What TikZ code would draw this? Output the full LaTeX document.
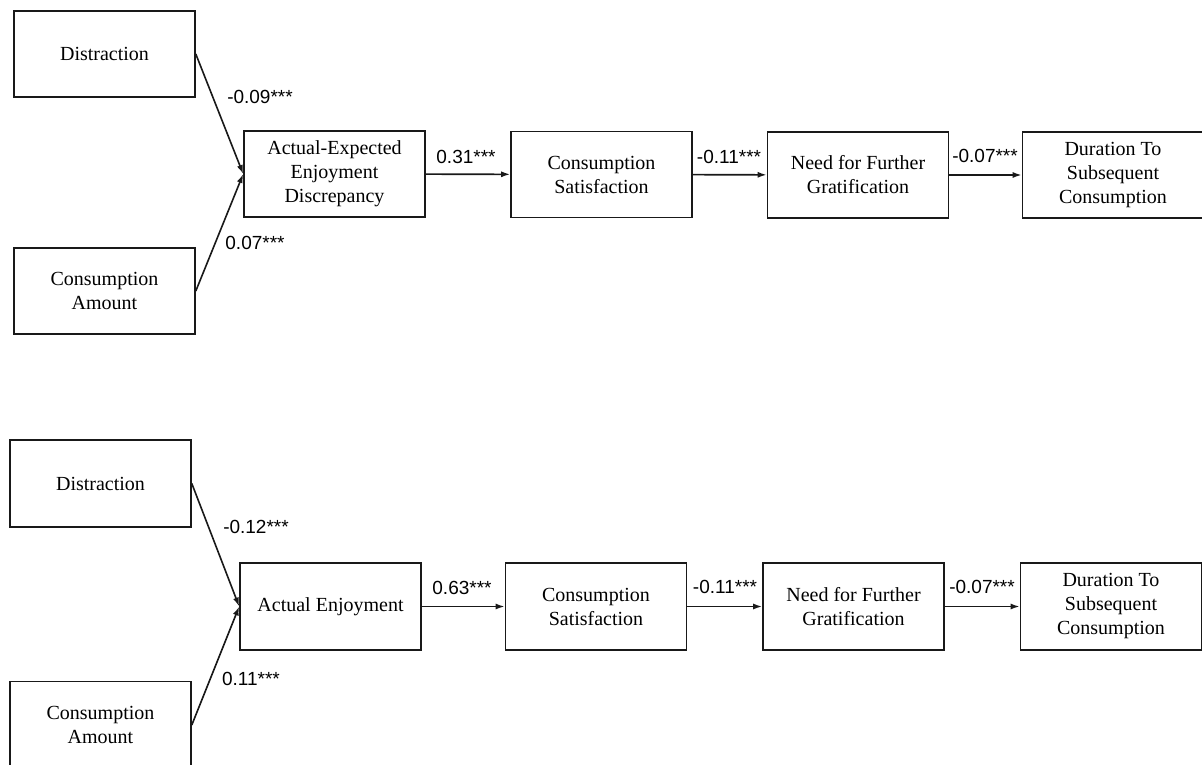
\documentclass[tikz,border=0pt]{standalone}
\usepackage{fontspec}
\setmainfont{Liberation Serif}
\newfontfamily\labfont{Liberation Sans}
\usetikzlibrary{arrows.meta}
\begin{document}
\begin{tikzpicture}[x=1pt,y=-1pt,
  boxnode/.style={draw=black!90, line width=1.6pt, minimum width=181pt, minimum height=86pt,
    inner sep=2pt, align=center, font=\fontsize{20}{24}\selectfont},
  coef/.style={font=\labfont\fontsize{19}{22}\selectfont, inner sep=0pt},
  link/.style={line width=1.6pt, draw=black!90, -{Latex[length=9pt,width=6pt]}}]
\useasboundingbox (0,0) rectangle (1202,765);
% top panel
\node[boxnode] (d1) at (104.5,54) {Distraction};
\node[boxnode] (c1) at (104.5,291) {Consumption\\Amount};
\node[boxnode] (a1) at (334.5,174) {Actual-Expected\\Enjoyment\\Discrepancy};
\node[boxnode] (s1) at (601.5,174.5) {Consumption\\Satisfaction};
\node[boxnode] (n1) at (858,175) {Need for Further\\Gratification};
\node[boxnode] (u1) at (1113,175) {Duration To\\Subsequent\\Consumption};
\draw[link] (d1.east) -- (a1.west);
\draw[link] (c1.east) -- (a1.west);
\draw[link] (a1) -- (s1);
\draw[link] (s1) -- (n1);
\draw[link] (n1) -- (u1);
\node[coef] (l1) at (260,97) {-0.09***};
\node[coef] (l2) at (255,243) {0.07***};
\node[coef] (l3) at (466,157) {0.31***};
\node[coef] (l4) at (729,157) {-0.11***};
\node[coef] (l5) at (985,156) {-0.07***};
% bottom panel
\node[boxnode, minimum height=87pt] (d2) at (100.5,483.5) {Distraction};
\node[boxnode, minimum height=87pt] (c2) at (100.5,725) {Consumption\\Amount};
\node[boxnode, minimum height=87pt] (a2) at (330.5,606.5) {Actual Enjoyment};
\node[boxnode, minimum height=87pt] (s2) at (596,606.5) {Consumption\\Satisfaction};
\node[boxnode, minimum height=87pt] (n2) at (853.5,606.5) {Need for Further\\Gratification};
\node[boxnode, minimum height=87pt] (u2) at (1111,606.5) {Duration To\\Subsequent\\Consumption};
\draw[link] (d2.east) -- (a2.west);
\draw[link] (c2.east) -- (a2.west);
\draw[link] (a2) -- (s2);
\draw[link] (s2) -- (n2);
\draw[link] (n2) -- (u2);
\node[coef] (m1) at (256,527) {-0.12***};
\node[coef] (m2) at (251,679) {0.11***};
\node[coef] (m3) at (462,588) {0.63***};
\node[coef] (m4) at (725,587) {-0.11***};
\node[coef] (m5) at (982,587) {-0.07***};
\end{tikzpicture}
\end{document}
